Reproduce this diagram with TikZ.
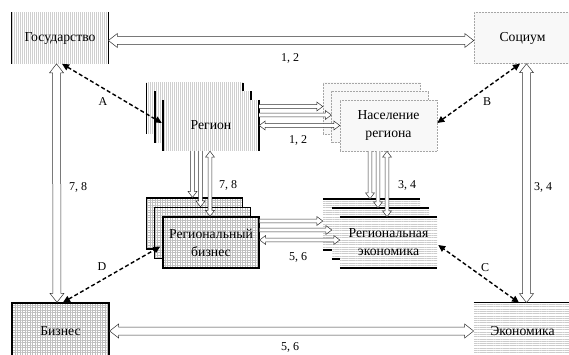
\documentclass[tikz,border=0pt]{standalone}
\usepackage{fontspec}
\setmainfont{Liberation Serif}
\usetikzlibrary{calc,patterns.meta,arrows.meta}

% sizes of the hollow block arrows
\newcommand\arrShaft{4}
\newcommand\arrHead{7}
\newcommand\arrLen{9}

\tikzset{
  main/.style={font=\fontsize{13.7}{18}\selectfont, align=center, inner sep=0pt},
  lbl/.style={font=\fontsize{12}{14}\selectfont, inner sep=0pt},
  boxsize/.style={minimum width=96pt, minimum height=51pt},
  bar/.style={draw=black, line width=1.6pt},
  % vertical hatching, thick bars left and right
  vbox/.style={main, boxsize, preaction={fill=white},
    pattern={Lines[angle=90,distance=2pt,line width=0.7pt]}, pattern color=gray!38,
    append after command={
      (\tikzlastnode.north west) edge[bar] (\tikzlastnode.south west)
      (\tikzlastnode.north east) edge[bar] (\tikzlastnode.south east)}},
  % fine stipple, dotted outline
  dbox/.style={main, boxsize, minimum width=97pt, preaction={fill=white},
    pattern={Dots[distance=2pt,radius=0.45pt]}, pattern color=gray!60,
    draw=gray!70, densely dotted, line width=0.5pt},
  % grid, heavy outline
  gbox/.style={main, boxsize, preaction={fill=white},
    pattern={Hatch[angle=0,distance=2.5pt,line width=0.35pt]}, pattern color=gray!50,
    draw=black, line width=1.3pt},
  % horizontal hatching, thick bars top and bottom
  hbox/.style={main, boxsize, minimum width=97pt, preaction={fill=white},
    pattern={Lines[angle=0,distance=2.3pt,line width=0.7pt]}, pattern color=gray!40,
    append after command={
      (\tikzlastnode.north west) edge[bar] (\tikzlastnode.north east)
      (\tikzlastnode.south west) edge[bar] (\tikzlastnode.south east)}},
  bigarrow/.code={\def\arrShaft{4}\def\arrHead{7}\def\arrLen{9}},
  smallarrow/.code={\def\arrShaft{1.8}\def\arrHead{4.5}\def\arrLen{6}},
  arrowline/.style={draw=black!80, line width=0.5pt, fill=white},
  onehead/.style={arrowline, to path={
    let \p1=(\tikztostart), \p2=(\tikztotarget),
        \n1={atan2(\y2-\y1,\x2-\x1)}, \n2={veclen(\x2-\x1,\y2-\y1)} in
    {[shift={(\p1)}, rotate=\n1]
      (0,\arrShaft) -- ({\n2-\arrLen},\arrShaft) -- ({\n2-\arrLen},\arrHead)
      -- (\n2,0) -- ({\n2-\arrLen},-\arrHead) -- ({\n2-\arrLen},-\arrShaft)
      -- (0,-\arrShaft)}}},
  twohead/.style={arrowline, to path={
    let \p1=(\tikztostart), \p2=(\tikztotarget),
        \n1={atan2(\y2-\y1,\x2-\x1)}, \n2={veclen(\x2-\x1,\y2-\y1)} in
    {[shift={(\p1)}, rotate=\n1]
      (\arrLen,\arrShaft) -- ({\n2-\arrLen},\arrShaft) -- ({\n2-\arrLen},\arrHead)
      -- (\n2,0) -- ({\n2-\arrLen},-\arrHead) -- ({\n2-\arrLen},-\arrShaft)
      -- (\arrLen,-\arrShaft) -- (\arrLen,-\arrHead) -- (0,0)
      -- (\arrLen,\arrHead) -- cycle}}},
  dasharrow/.style={draw=black, line width=1.4pt, dash pattern=on 4pt off 2.5pt,
    {Triangle[length=7pt,width=6.5pt]}-{Triangle[length=7pt,width=6.5pt]}},
}

\begin{document}
\begin{tikzpicture}[x=1pt, y=-1pt]
\useasboundingbox (0,0) rectangle (569,355);

% corner blocks
\node[vbox] (gos) at (60,38) {Государство};
\node[dbox] (soc) at (522.5,38) {Социум};
\node[gbox, minimum width=97pt, minimum height=56pt] (biz) at (60.5,331) {Бизнес};
\node[hbox, minimum height=56pt] (eco) at (522.5,331) {Экономика};

% regional stacks
\node[vbox] (reg1) at (194.5,108.5) {};
\node[vbox] (reg2) at (203,117) {};
\node[vbox] (reg3) at (211,125.5) {Регион};

\node[dbox] (pop1) at (371.5,108.5) {};
\node[dbox] (pop2) at (380,117) {};
\node[dbox] (pop3) at (388.5,125.5) {Население\\региона};

\node[gbox] (rb1) at (194.5,223.5) {};
\node[gbox] (rb2) at (202.5,233) {};
\node[gbox] (rb3) at (211,242.5) {Региональный\\бизнес};

\node[hbox] (re1) at (371.5,224.5) {};
\node[hbox] (re2) at (380.5,233.5) {};
\node[hbox] (re3) at (388.5,242.5) {Региональная\\экономика};

% outer links
\draw[bigarrow, twohead] ($(gos.east)+(0,2.5)$) to ($(soc.west)+(0,2.5)$);
\draw[bigarrow, twohead] (biz.east) to (eco.west);
\draw[bigarrow, twohead] ($(gos.south)+(-3.5,0)$) to ($(biz.north)+(-3.5,0)$);
\draw[bigarrow, twohead] ($(soc.south)+(4,0)$) to ($(eco.north)+(4,0)$);

% region -> population
\draw[smallarrow, onehead] ($(reg3.east |- pop1.west)+(0,-2)$) to ($(pop1.west)+(0,-2)$);
\draw[smallarrow, onehead] ($(reg3.east |- pop2.west)+(0,-2)$) to ($(pop2.west)+(0,-2)$);
\draw[smallarrow, twohead] (reg3.east |- pop3.west) to (pop3.west);

% region -> regional business
\draw[smallarrow, onehead] ($(rb1.north |- reg3.south)+(-2,0)$) to ($(rb1.north)+(-2,0)$);
\draw[smallarrow, onehead] ($(rb2.north |- reg3.south)+(-2,0)$) to ($(rb2.north)+(-2,0)$);
\draw[smallarrow, twohead] ($(rb3.north |- reg3.south)+(-1,0)$) to ($(rb3.north)+(-1,0)$);

% population -> regional economy
\draw[smallarrow, onehead] ($(re1.north |- pop3.south)+(-1.5,0)$) to ($(re1.north)+(-1.5,0)$);
\draw[smallarrow, onehead] ($(re2.north |- pop3.south)+(-2.5,0)$) to ($(re2.north)+(-2.5,0)$);
\draw[smallarrow, twohead] ($(re3.north |- pop3.south)+(-1.5,0)$) to ($(re3.north)+(-1.5,0)$);

% regional business -> regional economy
\draw[smallarrow, onehead] ($(rb3.east |- re1.west)+(0,-3.5)$) to ($(re1.west)+(0,-3.5)$);
\draw[smallarrow, onehead] ($(rb3.east |- re2.west)+(0,-3.5)$) to ($(re2.west)+(0,-3.5)$);
\draw[smallarrow, twohead] ($(rb3.east |- re3.west)+(0,-2.5)$) to ($(re3.west)+(0,-2.5)$);

% dashed correspondences
\draw[dasharrow] ($(gos.south)+(2,0)$) -- ($(reg3.west)+(-1,-2.5)$);
\draw[dasharrow] ($(soc.south)+(-2.5,0)$) -- ($(pop3.east)+(0,-2.5)$);
\draw[dasharrow] ($(eco.north)+(-3.5,0)$) -- ($(re3.east)+(1,2.5)$);
\draw[dasharrow] ($(biz.north)+(2.5,0)$) -- ($(rb3.west)+(-2,4)$);

% labels
\node[lbl] (l12a) at (290,58) {1, 2};
\node[lbl] (l12b) at (298,140) {1, 2};
\node[lbl] (la) at (103,102) {A};
\node[lbl] (lb) at (487,102) {B};
\node[lbl] (l78a) at (78,187) {7, 8};
\node[lbl] (l78b) at (228,185) {7, 8};
\node[lbl] (l34a) at (407,185) {3, 4};
\node[lbl] (l34b) at (543,187) {3, 4};
\node[lbl] (l56a) at (298,257) {5, 6};
\node[lbl] (ld) at (102,267) {D};
\node[lbl] (lc) at (485,268) {C};
\node[lbl] (l56b) at (290,347) {5, 6};
\end{tikzpicture}
\end{document}
